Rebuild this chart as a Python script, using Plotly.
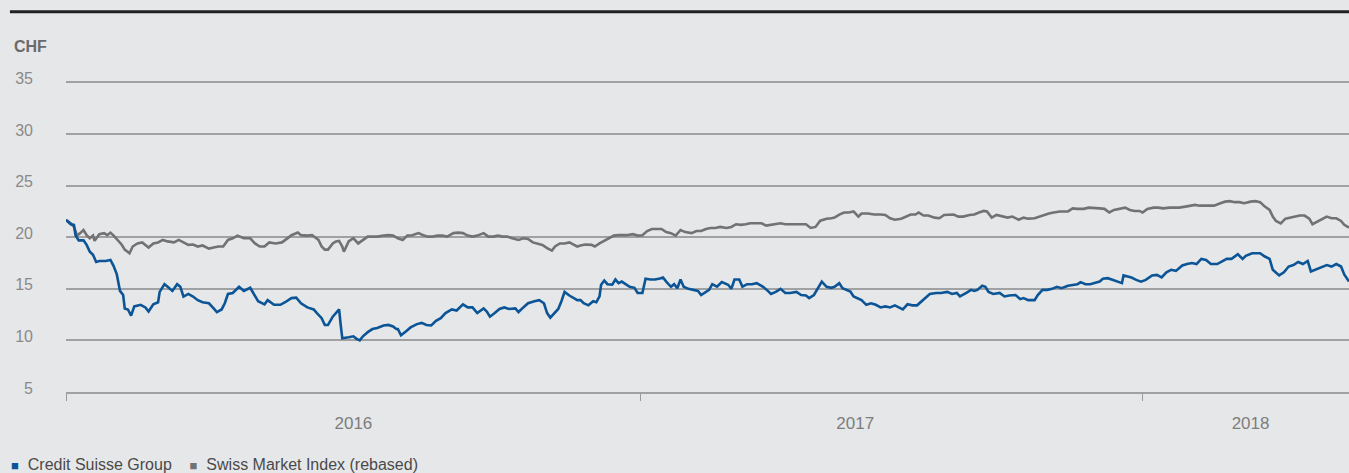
import pandas as pd
import plotly.graph_objects as go

START = pd.Timestamp("2016-01-01")

# Credit Suisse Group share price (CHF), day offsets from 1 Jan 2016
cs_days = [0, 3, 5, 6, 8, 11, 13, 15, 17, 19, 21, 25, 28, 30, 32, 34, 36, 37, 39, 41, 43, 47, 50, 52, 55, 58, 59, 62, 64, 67, 70, 72, 74, 77, 80, 83, 86, 90, 93, 95, 98, 100, 102, 105, 109, 112, 116, 118, 121, 125, 127, 131, 135, 138, 142, 145, 148, 152, 156, 158,
           161, 163, 165, 168, 170, 172, 173, 174, 178, 181, 183, 185, 187, 190, 193, 196, 200, 203, 206, 208, 209, 211, 214, 217, 221, 224, 227, 230, 233, 236, 239, 243, 246, 250, 253, 256, 259, 263, 265, 267, 270, 273, 276, 279, 283, 285, 288, 291, 295, 298, 301, 303, 305, 308, 310, 312, 314, 317, 320,
           322, 324, 326, 329, 332, 334, 336, 337, 339, 341, 344, 346, 348, 350, 353, 355, 358, 360, 363, 365, 368, 371, 374, 376, 378, 381, 383, 385, 387, 389, 392, 395, 398, 400, 403, 405, 407, 410, 413, 417, 419, 421, 424, 426, 429, 432, 435, 439, 442, 444, 447, 450, 453, 456, 460, 463, 466, 468, 471, 473, 476, 479, 482,
           484, 487, 489, 491, 494, 496, 499, 501, 504, 507, 510, 513, 516, 519, 522, 525, 527, 530, 533, 536, 539, 541, 544, 548, 551, 555, 558, 561, 563, 567, 570, 572, 574, 577, 579, 581, 584, 588, 591, 594, 598, 601, 603, 606, 610, 612, 615, 618, 621, 624, 627, 631, 634, 637, 639, 642,
           645, 648, 651, 653, 656, 659, 663, 665, 666, 668, 671, 674, 677, 680, 684, 687, 690, 693, 696, 699, 703, 706, 709, 712, 715, 718, 721, 725, 728, 731, 734, 738, 741, 743, 747, 750, 752, 755, 758, 760, 762, 764, 767, 770, 773, 776, 779, 782, 784, 788, 791, 794, 797, 800, 803, 805, 808]
cs_vals = [21.68, 21.26, 21.2, 20.2, 19.7, 19.7, 19.26, 18.6, 18.3, 17.6, 17.7, 17.7, 17.8, 17.2, 16.4, 14.8, 14.4, 13.1, 13.0, 12.4, 13.3, 13.45, 13.2, 12.8, 13.5, 13.7, 14.7, 15.45, 15.2, 14.8, 15.45, 15.2, 14.25, 14.5, 14.25, 13.9, 13.7, 13.6, 13.1, 12.75, 13.0, 13.6, 14.5, 14.6, 15.2, 14.8, 15.1, 14.6, 13.8, 13.5, 13.9, 13.45, 13.45, 13.7, 14.1, 14.15, 13.6, 13.2, 13.0, 12.65,
           12.16, 11.5, 11.5, 12.3, 12.65, 13.0, 11.5, 10.2, 10.3, 10.4, 10.15, 10.0, 10.4, 10.8, 11.1, 11.2, 11.45, 11.5, 11.35, 11.1, 11.1, 10.5, 10.87, 11.26, 11.58, 11.7, 11.5, 11.45, 11.9, 12.16, 12.65, 13.0, 12.9, 13.5, 13.2, 13.2, 12.65, 13.1, 12.8, 12.3, 12.65, 13.05, 13.2, 13.05, 13.1, 12.75, 13.2, 13.6, 13.8, 13.9, 13.6, 12.65, 12.2, 12.65, 13.05, 13.8, 14.7, 14.35, 14.1,
           13.9, 13.9, 13.6, 13.4, 13.8, 13.7, 14.26, 15.4, 15.8, 15.45, 15.4, 15.9, 15.55, 15.7, 15.4, 15.2, 15.1, 14.6, 14.6, 15.97, 15.9, 15.9, 16.0, 16.1, 15.7, 15.2, 15.45, 15.06, 15.9, 15.2, 15.0, 14.9, 14.8, 14.4, 14.7, 14.9, 15.45, 15.2, 15.65, 15.4, 15.0, 15.9, 15.9, 15.2, 15.45, 15.45, 15.55, 15.2, 14.8, 14.5, 14.7, 15.0, 14.6, 14.6, 14.7, 14.4, 14.35, 14.1, 14.4, 14.9, 15.7, 15.2, 15.1,
           15.2, 15.55, 15.06, 14.9, 14.74, 14.26, 14.0, 13.9, 13.45, 13.6, 13.45, 13.2, 13.3, 13.2, 13.4, 13.2, 13.0, 13.5, 13.4, 13.4, 13.8, 14.1, 14.5, 14.6, 14.6, 14.7, 14.5, 14.6, 14.26, 14.6, 14.9, 14.8, 14.9, 15.3, 15.2, 14.7, 14.5, 14.6, 14.26, 14.35, 14.4, 14.0, 14.1, 13.9, 13.9, 14.4, 14.9, 14.9, 15.0, 15.2, 15.06, 15.3, 15.4, 15.45, 15.65, 15.45,
           15.45, 15.55, 15.7, 15.97, 16.03, 15.87, 15.7, 15.55, 16.3, 16.2, 16.1, 15.87, 15.7, 15.87, 16.3, 16.35, 16.1, 16.6, 16.84, 16.74, 17.26, 17.4, 17.5, 17.4, 17.9, 17.8, 17.4, 17.4, 17.65, 17.9, 17.9, 18.35, 17.9, 18.2, 18.45, 18.45, 18.45, 18.13, 17.9, 16.84, 16.6, 16.3, 16.6, 17.16, 17.3, 17.6, 17.4, 17.7, 16.68, 16.94, 17.16, 17.3, 17.16, 17.4, 17.16, 16.4, 15.7]

# Swiss Market Index, rebased to CS price
smi_days = [0, 3, 5, 7, 9, 11, 13, 15, 17, 18, 21, 24, 26, 28, 30, 33, 35, 37, 40, 42, 45, 48, 50, 52, 55, 58, 61, 64, 68, 71, 74, 77, 80, 83, 86, 90, 93, 96, 99, 102, 105, 108, 112, 116, 119, 122, 125, 128, 132, 136, 139, 142, 146, 148, 152, 155, 157, 159,
            161, 163, 165, 168, 170, 172, 174, 175, 178, 181, 184, 187, 190, 193, 196, 200, 203, 206, 209, 212, 215, 218, 222, 225, 228, 231, 234, 237, 240, 244, 247, 250, 253, 256, 259, 263, 266, 269, 272, 275, 278, 281, 285, 288, 291, 294, 297, 300, 303, 306, 308, 311, 314, 317, 320,
            322, 324, 327, 331, 333, 336, 339, 342, 345, 348, 353, 357, 360, 363, 366, 369, 373, 375, 378, 381, 384, 387, 390, 394, 397, 400, 403, 406, 409, 412, 416, 419, 422, 425, 428, 431, 435, 438, 441, 444, 447, 450, 453, 457, 460, 463, 466, 469, 472, 475, 479, 482,
            484, 487, 490, 493, 496, 499, 501, 505, 509, 513, 516, 519, 522, 526, 529, 532, 535, 537, 540, 543, 547, 550, 553, 556, 559, 562, 565, 569, 572, 575, 578, 580, 583, 586, 590, 593, 596, 600, 603, 606, 610, 613, 616, 619, 622, 626, 631, 634, 637, 641, 644,
            648, 651, 654, 657, 660, 664, 667, 670, 673, 676, 678, 681, 685, 688, 691, 695, 698, 701, 705, 708, 711, 714, 717, 720, 723, 727, 730, 733, 736, 739, 742, 746, 749, 752, 755, 758, 760, 762, 765, 768, 771, 774, 777, 780, 783, 785, 789, 792, 794, 797, 800, 803, 805, 808]
smi_vals = [21.68, 21.35, 21.0, 20.16, 20.4, 20.7, 20.2, 19.9, 20.16, 19.65, 20.3, 20.4, 20.2, 20.45, 20.16, 19.7, 19.3, 18.8, 18.45, 19.1, 19.4, 19.5, 19.2, 19.0, 19.4, 19.5, 19.74, 19.6, 19.5, 19.74, 19.5, 19.26, 19.3, 19.1, 19.2, 18.9, 19.0, 19.1, 19.1, 19.74, 19.9, 20.16, 19.9, 19.9, 19.4, 19.1, 19.1, 19.5, 19.4, 19.5, 19.84, 20.2, 20.45, 20.2, 20.16, 20.2, 19.97, 19.74,
            19.1, 18.8, 18.8, 19.4, 19.6, 19.65, 19.1, 18.6, 19.6, 19.9, 19.4, 19.74, 20.06, 20.06, 20.06, 20.16, 20.2, 20.16, 19.9, 19.74, 20.16, 20.2, 20.4, 20.2, 20.06, 20.06, 20.16, 20.16, 20.06, 20.4, 20.45, 20.4, 20.16, 20.06, 20.16, 20.4, 20.06, 20.06, 20.16, 20.06, 20.06, 19.9, 19.74, 19.9, 19.84, 19.5, 19.4, 19.26, 18.94, 18.7, 19.1, 19.4, 19.4, 19.5, 19.26,
            19.1, 19.2, 19.3, 19.26, 19.1, 19.4, 19.65, 19.97, 20.16, 20.2, 20.2, 20.3, 20.16, 20.2, 20.6, 20.8, 20.8, 20.8, 20.5, 20.4, 20.16, 20.7, 20.5, 20.4, 20.6, 20.6, 20.8, 20.9, 20.9, 21.0, 20.9, 21.0, 21.26, 21.2, 21.26, 21.35, 21.35, 21.35, 21.13, 21.2, 21.26, 21.35, 21.26, 21.26, 21.26, 21.2, 21.26, 20.9, 21.0, 21.6, 21.8, 21.84,
            21.9, 22.2, 22.4, 22.4, 22.5, 22.0, 22.3, 22.3, 22.2, 22.2, 22.16, 21.84, 21.7, 21.8, 22.0, 22.2, 22.2, 22.4, 22.1, 22.1, 21.9, 21.84, 22.16, 22.16, 22.2, 22.0, 22.0, 22.16, 22.2, 22.4, 22.55, 22.5, 21.9, 22.16, 22.0, 21.9, 22.0, 21.7, 21.9, 21.8, 21.84, 22.0, 22.2, 22.3, 22.4, 22.5, 22.5, 22.8, 22.75, 22.75, 22.87,
            22.87, 22.8, 22.75, 22.4, 22.65, 22.8, 22.87, 22.65, 22.55, 22.55, 22.4, 22.75, 22.87, 22.87, 22.8, 22.87, 22.87, 22.87, 22.97, 23.06, 23.13, 23.06, 23.06, 23.13, 23.06, 23.3, 23.45, 23.5, 23.4, 23.4, 23.3, 23.45, 23.5, 23.4, 22.97, 22.65, 22.0, 21.58, 21.35, 21.8, 21.9, 22.0, 22.1, 22.1, 21.8, 21.26, 21.58, 21.9, 22.0, 21.84, 21.84, 21.58, 21.2, 20.94]

y_ticks = [5, 10, 15, 20, 25, 30, 35]
year_labels = ["2016", "2017", "2018"]
year_label_dates = ["2016-06-30", "2017-05-12", "2018-01-16"]
year_tick_dates = ["2016-01-01", "2016-12-27 12:00", "2017-11-09"]
x_range = ["2016-01-01", "2018-03-19"]

cs_x = START + pd.to_timedelta(cs_days, unit="D")
smi_x = START + pd.to_timedelta(smi_days, unit="D")

CS_COLOR = "#0B5596"
SMI_COLOR = "#727272"
BG = "#E6E7E9"
GRID = "#A0A1A3"

fig = go.Figure()
fig.add_trace(go.Scatter(x=smi_x, y=smi_vals, mode="lines", name="Swiss Market Index (rebased)",
                         line=dict(color=SMI_COLOR, width=2.6), showlegend=False))
fig.add_trace(go.Scatter(x=cs_x, y=cs_vals, mode="lines", name="Credit Suisse Group",
                         line=dict(color=CS_COLOR, width=2.6), showlegend=False))

fig.update_layout(
    width=1349, height=473,
    paper_bgcolor=BG, plot_bgcolor=BG,
    margin=dict(l=66, r=0, t=67, b=81),
    font=dict(family="Liberation Sans, Arial, sans-serif", color="#808080"),
    xaxis=dict(
        type="date", range=x_range,
        tickmode="array", tickvals=year_label_dates, ticktext=year_labels,
        ticks="", showgrid=False, zeroline=False,
        showline=True, linecolor=GRID, linewidth=1.6,
        tickfont=dict(size=17, color="#7d7d7d"),
        ticklabelstandoff=15,
        minor=dict(tickmode="array", tickvals=year_tick_dates, ticks="outside",
                   ticklen=7, tickwidth=1, tickcolor="#9a9a9a", showgrid=False),
    ),
    yaxis=dict(
        range=[5, 36.5], tickmode="array", tickvals=y_ticks,
        showgrid=True, gridcolor=GRID, gridwidth=1.5, zeroline=False,
        showline=False, ticks="",
        tickfont=dict(size=16, color="#8a8a8a"),
        ticklabelstandoff=32, ticklabelshift=-4,
    ),
    showlegend=False,
    shapes=[dict(type="line", xref="paper", yref="paper", x0=-0.0437, x1=1,
                 y0=1.170, y1=1.170, line=dict(color="#222222", width=3))],
    annotations=[
        dict(text="<b>CHF</b>", xref="paper", yref="paper", x=-0.042, y=1.062,
             xanchor="left", yanchor="middle", showarrow=False,
             font=dict(size=16, color="#6a6a6a")),
        dict(text=f"<span style='color:{CS_COLOR};font-size:13px'>■</span>  Credit Suisse Group"
                  f"    <span style='color:{SMI_COLOR};font-size:13px'>■</span>  Swiss Market Index (rebased)",
             xref="paper", yref="paper", x=-0.0445, y=-0.222,
             xanchor="left", yanchor="middle", showarrow=False,
             font=dict(size=16, color="#4a4a4a")),
    ],
)

fig.write_html("out.html", config={"displayModeBar": False},
               post_script="document.body.style.margin='0';document.body.style.background='" + BG + "';")
